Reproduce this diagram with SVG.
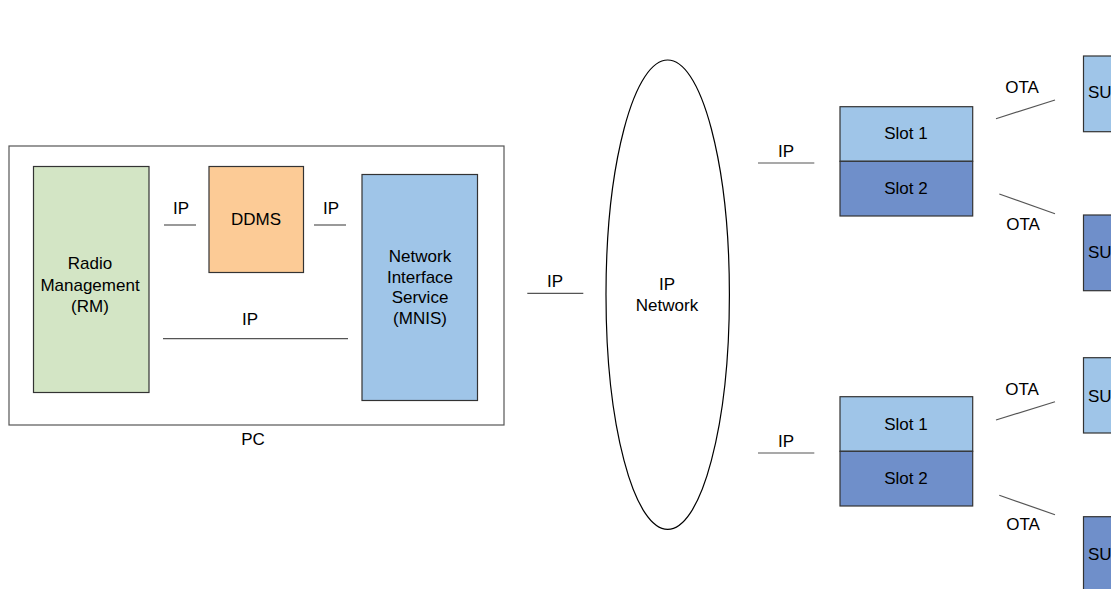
<svg xmlns="http://www.w3.org/2000/svg" width="1111" height="589" viewBox="0 0 1111 589">
<style>
text{font-family:"Liberation Sans",Arial,sans-serif;font-size:17px;fill:#000;text-anchor:middle}
.box{stroke:#333;stroke-width:1.2}
.ln{stroke:#555;stroke-width:1.2;fill:none}
.green{fill:#d3e5c5}.orange{fill:#fccb96}.light{fill:#9fc5e8}.dark{fill:#6f8fca}
</style>
<rect width="1111" height="589" fill="#fff"/>
<g id="pc">
<rect x="9" y="146" width="495" height="279" fill="#fff" stroke="#555" stroke-width="1.2"/>
<text x="253" y="445">PC</text>
</g>
<g id="rm">
<rect class="box green" x="33.5" y="166.5" width="115.5" height="226"/>
<text x="90" y="269">Radio</text>
<text x="90" y="290.5">Management</text>
<text x="90" y="311.5">(RM)</text>
</g>
<g id="ddms">
<rect class="box orange" x="209" y="166.5" width="94.5" height="106"/>
<text x="256" y="225">DDMS</text>
</g>
<g id="mnis">
<rect class="box light" x="362" y="174.5" width="115.5" height="226"/>
<text x="420" y="262">Network</text>
<text x="420" y="282.5">Interface</text>
<text x="420" y="303">Service</text>
<text x="420" y="323.5">(MNIS)</text>
</g>
<g id="ipnet">
<ellipse cx="667.7" cy="294.7" rx="61.7" ry="234.7" fill="#fff" stroke="#000" stroke-width="1.2"/>
<text x="667" y="290">IP</text>
<text x="667" y="311">Network</text>
</g>
<g id="bs1">
<rect class="box light" x="840" y="106.7" width="132.7" height="54.6"/>
<rect class="box dark" x="840" y="161.3" width="132.7" height="54.7"/>
<text x="906" y="139">Slot 1</text>
<text x="906" y="194">Slot 2</text>
</g>
<g id="bs2">
<rect class="box light" x="840" y="396.7" width="132.7" height="54.6"/>
<rect class="box dark" x="840" y="451.3" width="132.7" height="54.7"/>
<text x="906" y="430">Slot 1</text>
<text x="906" y="483.5">Slot 2</text>
</g>
<g id="su1">
<rect class="box light" x="1083.5" y="56" width="40" height="75.7"/>
<text x="1088" y="98.3" style="text-anchor:start">SU</text>
</g>
<g id="su2">
<rect class="box dark" x="1083.5" y="215" width="40" height="75.7"/>
<text x="1088" y="258.3" style="text-anchor:start">SU</text>
</g>
<g id="su3">
<rect class="box light" x="1083.5" y="357.7" width="40" height="75.3"/>
<text x="1088" y="401.7" style="text-anchor:start">SU</text>
</g>
<g id="su4">
<rect class="box dark" x="1083.5" y="516.7" width="40" height="80"/>
<text x="1088" y="560" style="text-anchor:start">SU</text>
</g>
<g id="connectors">
<line class="ln" x1="164" y1="225" x2="196" y2="225"/>
<line class="ln" x1="314" y1="225" x2="346" y2="225"/>
<line class="ln" x1="163" y1="338.7" x2="348" y2="338.7"/>
<line class="ln" x1="527.3" y1="293.3" x2="583.3" y2="293.3"/>
<line class="ln" x1="758" y1="163" x2="814.3" y2="163"/>
<line class="ln" x1="758" y1="453" x2="814.3" y2="453"/>
<line class="ln" x1="996" y1="118.7" x2="1055" y2="100"/>
<line class="ln" x1="999.3" y1="194" x2="1055" y2="213.7"/>
<line class="ln" x1="996" y1="420" x2="1055" y2="401.7"/>
<line class="ln" x1="999.3" y1="495.3" x2="1055" y2="514.7"/>
<text x="181" y="214">IP</text>
<text x="331" y="214">IP</text>
<text x="250" y="325">IP</text>
<text x="555" y="287">IP</text>
<text x="786" y="157">IP</text>
<text x="786" y="447">IP</text>
<text x="1022" y="93">OTA</text>
<text x="1023" y="229.5">OTA</text>
<text x="1022" y="394.5">OTA</text>
<text x="1023" y="530">OTA</text>
</g>
</svg>
